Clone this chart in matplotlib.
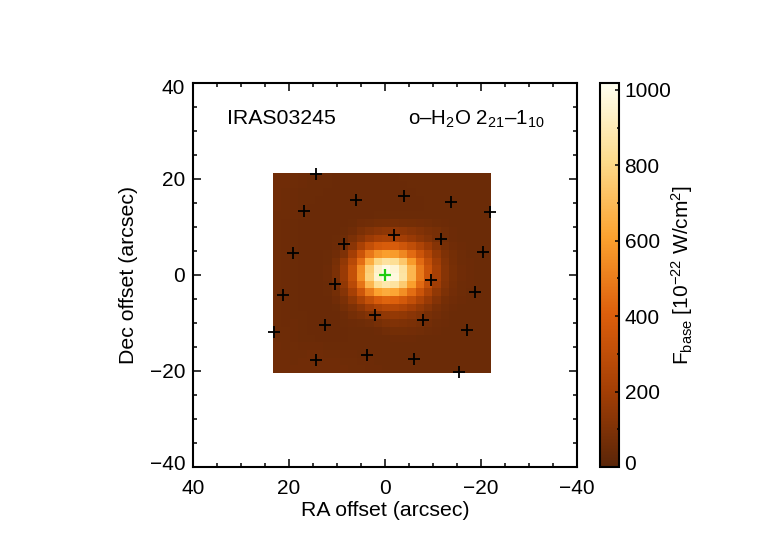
import numpy as np
import matplotlib
matplotlib.use('Agg')
import matplotlib.pyplot as plt
from matplotlib.colors import LinearSegmentedColormap
from matplotlib.transforms import ScaledTranslation

plt.rcParams['font.family'] = ['Liberation Sans', 'DejaVu Sans']
plt.rcParams['mathtext.fontset'] = 'custom'
plt.rcParams['mathtext.rm'] = 'Liberation Sans'
plt.rcParams['mathtext.default'] = 'rm'

# line flux per spaxel, top row first, left column first
flux_rows = [
    [63, 60, 56, 52, 50, 49, 48, 47, 47, 47, 47, 47, 47, 47, 47, 48, 48, 48, 48, 49, 49, 49, 49, 50, 50, 50],
    [63, 60, 56, 52, 50, 49, 48, 47, 46, 46, 46, 46, 46, 46, 47, 47, 48, 48, 48, 49, 49, 49, 49, 50, 50, 50],
    [62, 59, 55, 51, 49, 48, 47, 46, 46, 45, 45, 45, 45, 46, 46, 47, 47, 48, 48, 48, 48, 49, 49, 49, 50, 50],
    [61, 58, 54, 50, 48, 47, 46, 45, 45, 45, 45, 45, 45, 46, 46, 47, 47, 47, 48, 48, 48, 48, 49, 49, 49, 50],
    [60, 57, 53, 49, 47, 46, 45, 45, 44, 44, 44, 45, 45, 46, 47, 47, 47, 47, 48, 48, 48, 48, 48, 49, 49, 50],
    [59, 56, 52, 48, 46, 45, 45, 44, 44, 45, 46, 47, 48, 49, 50, 50, 50, 50, 49, 49, 48, 48, 48, 49, 49, 50],
    [58, 55, 51, 47, 46, 45, 44, 44, 46, 48, 60, 66, 72, 78, 80, 78, 74, 70, 64, 58, 54, 50, 49, 49, 49, 50],
    [58, 55, 50, 47, 45, 45, 44, 46, 50, 62, 92, 112, 132, 146, 150, 142, 124, 110, 92, 80, 66, 54, 50, 49, 49, 50],
    [57, 54, 50, 46, 45, 44, 45, 48, 58, 92, 132, 182, 212, 224, 222, 202, 172, 142, 112, 86, 66, 54, 50, 49, 49, 50],
    [57, 54, 50, 46, 45, 44, 46, 52, 72, 132, 222, 312, 372, 392, 390, 352, 302, 242, 182, 122, 82, 60, 52, 50, 49, 50],
    [57, 54, 50, 46, 45, 45, 48, 62, 102, 202, 342, 482, 572, 602, 592, 532, 442, 342, 252, 162, 102, 72, 56, 51, 50, 50],
    [57, 54, 50, 47, 46, 46, 50, 82, 152, 272, 452, 652, 802, 852, 832, 742, 592, 442, 312, 192, 112, 76, 58, 52, 50, 50],
    [57, 54, 50, 47, 46, 47, 52, 92, 172, 322, 542, 762, 932, 992, 962, 852, 682, 492, 342, 212, 122, 82, 60, 52, 50, 50],
    [57, 54, 50, 47, 46, 47, 52, 92, 172, 322, 552, 782, 952, 1012, 982, 862, 682, 492, 342, 212, 122, 82, 60, 52, 50, 50],
    [57, 54, 50, 47, 46, 46, 50, 86, 152, 282, 472, 682, 832, 882, 852, 752, 602, 442, 312, 192, 112, 76, 58, 52, 50, 50],
    [57, 54, 51, 47, 46, 46, 48, 72, 122, 212, 352, 502, 612, 642, 622, 552, 452, 342, 242, 152, 96, 70, 56, 51, 50, 50],
    [57, 54, 51, 47, 46, 45, 47, 60, 92, 152, 232, 322, 392, 422, 412, 372, 312, 242, 172, 116, 76, 60, 52, 50, 50, 50],
    [57, 54, 51, 47, 46, 45, 46, 50, 72, 102, 142, 192, 232, 262, 262, 242, 202, 162, 122, 86, 66, 54, 50, 49, 49, 50],
    [58, 55, 51, 48, 46, 45, 45, 47, 54, 76, 92, 112, 132, 152, 162, 152, 132, 112, 86, 70, 56, 50, 49, 49, 49, 50],
    [58, 55, 52, 48, 46, 45, 45, 46, 48, 52, 58, 64, 80, 96, 106, 102, 92, 80, 70, 58, 52, 49, 49, 49, 49, 50],
    [59, 56, 52, 49, 47, 46, 46, 46, 47, 48, 49, 50, 54, 66, 72, 72, 70, 66, 58, 52, 50, 49, 48, 49, 49, 50],
    [59, 56, 53, 50, 48, 47, 47, 47, 47, 48, 48, 48, 49, 50, 52, 52, 52, 51, 50, 49, 48, 48, 48, 49, 49, 50],
    [60, 58, 56, 54, 53, 52, 50, 49, 48, 48, 48, 48, 48, 48, 48, 48, 48, 48, 48, 48, 48, 48, 48, 49, 49, 50],
    [61, 60, 58, 58, 60, 60, 58, 56, 54, 52, 50, 49, 48, 48, 48, 48, 48, 48, 48, 48, 48, 48, 48, 49, 49, 50],
    [62, 61, 59, 60, 62, 62, 60, 60, 58, 56, 54, 52, 50, 49, 48, 48, 48, 48, 48, 48, 48, 48, 48, 49, 49, 50],
    [62, 61, 60, 61, 63, 63, 62, 61, 60, 58, 56, 54, 52, 50, 49, 48, 48, 48, 48, 48, 48, 48, 48, 49, 49, 50],
]

# spaxel positions (arcsec)
ra_spaxels = [14.44, 6.04, -4.03, -13.68, -21.94, 16.81, -1.88, -11.60, 8.47, 19.10, -20.35, -9.65,
              10.42, -18.82, 21.25, 2.08, -7.92, 12.57, -17.01, 23.19, 3.82, -6.11, 14.38, -15.49]
dec_spaxels = [20.97, 15.69, 16.46, 15.21, 13.06, 13.33, 8.40, 7.50, 6.53, 4.58, 4.79, -1.11,
               -1.88, -3.47, -4.17, -8.40, -9.44, -10.42, -11.46, -11.81, -16.60, -17.50, -17.71, -20.14]

offset_ticks = [40, 20, 0, -20, -40]
offset_labels = ['40', '20', '0', '\u221220', '\u221240']
cbar_ticks = [0, 200, 400, 600, 800, 1000]

cmap_levels = [0.0, 0.2, 0.4, 0.6, 0.8, 1.0]
cmap_colors = ['#5a2508', '#a53f05', '#dd5f0c', '#fca22f', '#fddc8c', '#fffff0']
hot = LinearSegmentedColormap.from_list('base', list(zip(cmap_levels, cmap_colors)))

FS = 15


def nudge(label, dy_px):
    # shift a tick label up or down by some pixels
    label.set_transform(label.get_transform() + ScaledTranslation(0, dy_px/100, fig.dpi_scale_trans))


fig = plt.figure(figsize=(7.7, 5.5), dpi=100)
ax = fig.add_axes([193/770, 83/550, 384/770, 384/550])

im = ax.imshow(np.array(flux_rows), extent=[23.3, -22.05, -20.5, 21.0], cmap=hot, vmin=0, vmax=1018,
               interpolation='nearest', aspect='auto', zorder=1)
ax.plot(ra_spaxels, dec_spaxels, '+', color='black', ms=9, mew=1.3, clip_on=False, zorder=3)
ax.plot([0], [0], '+', color='#22cc11', ms=9, mew=1.6, zorder=4)

ax.set_xlim(40, -40)
ax.set_ylim(-40, 40)
ax.set_xticks(offset_ticks)
ax.set_yticks(offset_ticks)
ax.set_xticklabels(offset_labels)
ax.set_yticklabels(offset_labels)
ax.set_xticks(np.arange(-35, 40, 5), minor=True)
ax.set_yticks(np.arange(-35, 40, 5), minor=True)
ax.tick_params(which='major', direction='in', top=True, right=True, length=5.8, width=1.1, labelsize=FS)
ax.tick_params(axis='y', which='major', pad=5.5)
ax.tick_params(axis='x', which='major', pad=8.5)
ax.tick_params(which='minor', direction='in', top=True, right=True, length=2.9, width=1.1)
for s in ax.spines.values():
    s.set_linewidth(1.5)
ax.set_xlabel('RA offset (arcsec)', fontsize=15.3, labelpad=2.5)
ax.set_ylabel('Dec offset (arcsec)', fontsize=15.3, labelpad=8.5)

fig.text(227/770, 1 - 118/550, 'IRAS03245', fontsize=15.3, va='center', ha='left')
fig.text(408/770, 1 - 119/550, 'o\u2013H$_2$O 2$_{21}$\u20131$_{10}$', fontsize=14.8, va='center', ha='left')

cax = fig.add_axes([600/770, 83/550, 19/770, 384/550])
cb = fig.colorbar(im, cax=cax)
cb.set_ticks(cbar_ticks)
cb.set_ticks([100, 300, 500, 700, 900], minor=True)
cax.tick_params(which='major', direction='in', right=True, length=3, width=1.1, labelsize=FS, pad=4)
cax.tick_params(which='minor', direction='in', right=True, length=1.5, width=1.1)
cb.outline.set_linewidth(1.5)
cb.set_label('F$_{base}$ [10$^{\u221222}$ W/cm$^2$]', fontsize=15, labelpad=-2)

fig.canvas.draw()
ylabels = ax.get_yticklabels()
nudge(ylabels[0], -4)
nudge(ylabels[-1], 5)
nudge(cax.get_yticklabels()[0], 5)

fig.savefig('out.png', dpi=100)
